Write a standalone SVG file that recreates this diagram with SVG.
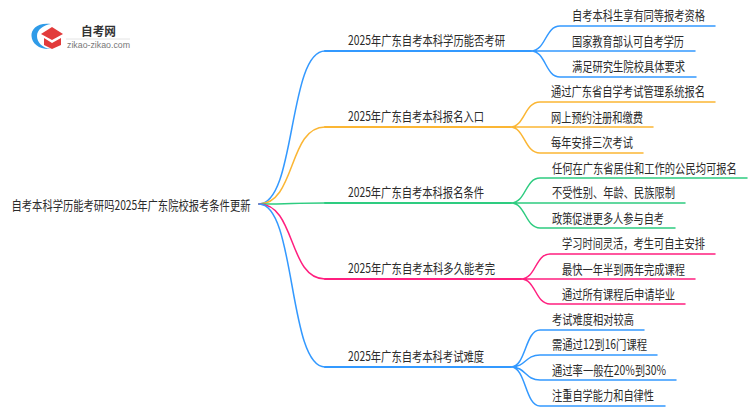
<svg xmlns="http://www.w3.org/2000/svg" width="750" height="410" viewBox="0 0 750 410">
<style>
text{font-family:"Noto Sans CJK SC","Noto Sans",sans-serif;font-size:13px;fill:#2b2b2b;dominant-baseline:central;transform:translateY(-.5px)}
.c{fill:none;stroke-linecap:round;stroke-width:1.5}
.l{fill:none;stroke-linecap:round;stroke-width:2}
.b{stroke:#3399ff}.o{stroke:#fbb634}.g{stroke:#2ecc80}.p{stroke:#ff1f7f}
</style>
<rect width="750" height="410" fill="#ffffff"/>
<g id="connectors">
<path class="c b" d="M259 204C296 204 288 51 325 51"/>
<path class="c o" d="M259 204C296 204 288 127 325 127"/>
<path class="c g" d="M259 204C296 204 288 203 325 203"/>
<path class="c p" d="M259 204C296 204 288 279 325 279"/>
<path class="c b" d="M259 204C296 204 288 367 325 367"/>
<path class="l b" d="M325 51H531"/><path class="l o" d="M325 127H510"/><path class="l g" d="M325 203H511"/><path class="l p" d="M325 279H521"/><path class="l b" d="M325 367H511"/>
<path class="c b" d="M531 51C546 51 545 26 560 26H715M531 51H695M531 51C546 51 545 77 560 77H696"/>
<path class="c o" d="M510 127C525 127 524 102 540 102H715M510 127H653M510 127C525 127 524 153 540 153H643"/>
<path class="c g" d="M511 203C526 203 525 178 540 178H747M511 203H685M511 203C526 203 525 228 540 228H675"/>
<path class="c p" d="M521 279C536 279 535 254 550 254H715M521 279H695M521 279C536 279 535 304 550 304H685"/>
<path class="c b" d="M511 367C526 367 525 330 540 330H644M511 367C526 367 525 355 540 355H657M511 367C526 367 525 380 540 380H676M511 367C526 367 525 406 540 406H665"/>
</g>
<g id="logo">
<path d="M51 24C38 22 31 29 31.500 36C32 44 40 50 51 49C42 48 37 42 37 36C37 30 43 25 51 24Z" fill="#2f9be8"/>
<path d="M52 27L63 34L52 40L41 34Z" fill="#e23b3b"/>
<path d="M44 38L52 43L61 38V45L52 49L44 45Z" fill="#e23b3b"/>
<path d="M66 39H130" stroke="#e4e4e4" stroke-width="1"/>
<text x="81" y="31" textLength="35" lengthAdjust="spacingAndGlyphs" style="font-size:12px;font-weight:700;fill:#333">自考网</text>
<text x="67" y="45" textLength="63" lengthAdjust="spacingAndGlyphs" style="font-size:8.5px;fill:#777;font-family:'Liberation Sans',sans-serif">zikao-zikao.com</text>
</g>
<g id="root"><text x="11.500" y="205" textLength="239" lengthAdjust="spacingAndGlyphs">自考本科学历能考研吗2025年广东院校报考条件更新</text></g>
<g id="b1"><text x="348" y="40" textLength="157" lengthAdjust="spacingAndGlyphs">2025年广东自考本科学历能否考研</text></g>
<g id="b2"><text x="348" y="116" textLength="136" lengthAdjust="spacingAndGlyphs">2025年广东自考本科报名入口</text></g>
<g id="b3"><text x="348" y="192" textLength="136" lengthAdjust="spacingAndGlyphs">2025年广东自考本科报名条件</text></g>
<g id="b4"><text x="348" y="268" textLength="147" lengthAdjust="spacingAndGlyphs">2025年广东自考本科多久能考完</text></g>
<g id="b5"><text x="348" y="356" textLength="136" lengthAdjust="spacingAndGlyphs">2025年广东自考本科考试难度</text></g>
<g id="n1"><text x="572" y="15" textLength="133" lengthAdjust="spacingAndGlyphs">自考本科生享有同等报考资格</text></g>
<g id="n2"><text x="572" y="41" textLength="112" lengthAdjust="spacingAndGlyphs">国家教育部认可自考学历</text></g>
<g id="n3"><text x="572" y="66" textLength="113" lengthAdjust="spacingAndGlyphs">满足研究生院校具体要求</text></g>
<g id="n4"><text x="551" y="91" textLength="154" lengthAdjust="spacingAndGlyphs">通过广东省自学考试管理系统报名</text></g>
<g id="n5"><text x="551" y="117" textLength="92" lengthAdjust="spacingAndGlyphs">网上预约注册和缴费</text></g>
<g id="n6"><text x="551" y="142" textLength="82" lengthAdjust="spacingAndGlyphs">每年安排三次考试</text></g>
<g id="n7"><g transform="translate(552 167) scale(.79 1)"><text x="0" y="0">任何在广东省居住和工作的公民均可报名</text></g></g>
<g id="n8"><text x="552" y="192" textLength="123" lengthAdjust="spacingAndGlyphs">不受性别、年龄、民族限制</text></g>
<g id="n9"><text x="552" y="218" textLength="112" lengthAdjust="spacingAndGlyphs">政策促进更多人参与自考</text></g>
<g id="n10"><text x="562" y="243" textLength="143" lengthAdjust="spacingAndGlyphs">学习时间灵活，考生可自主安排</text></g>
<g id="n11"><text x="562" y="269" textLength="123" lengthAdjust="spacingAndGlyphs">最快一年半到两年完成课程</text></g>
<g id="n12"><text x="562" y="294" textLength="113" lengthAdjust="spacingAndGlyphs">通过所有课程后申请毕业</text></g>
<g id="n13"><text x="552" y="319" textLength="82" lengthAdjust="spacingAndGlyphs">考试难度相对较高</text></g>
<g id="n14"><text x="552" y="344" textLength="95" lengthAdjust="spacingAndGlyphs">需通过12到16门课程</text></g>
<g id="n15"><text x="552" y="370" textLength="114" lengthAdjust="spacingAndGlyphs">通过率一般在20%到30%</text></g>
<g id="n16"><text x="552" y="395" textLength="102" lengthAdjust="spacingAndGlyphs">注重自学能力和自律性</text></g>
</svg>
